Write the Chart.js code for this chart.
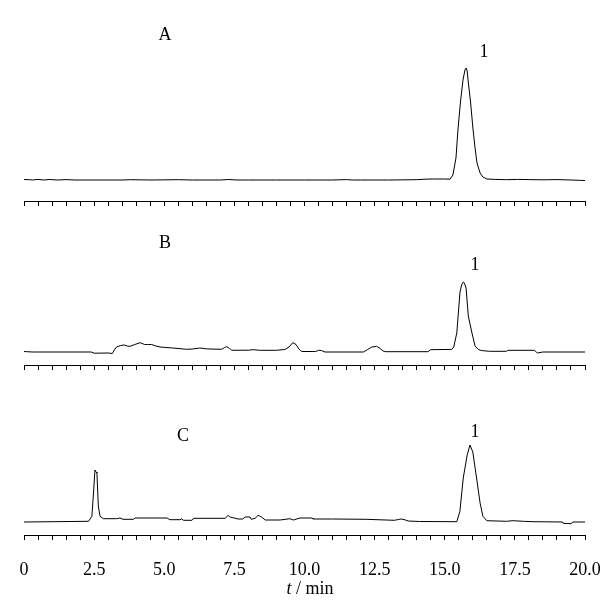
<!DOCTYPE html>
<html><head><meta charset="utf-8">
<script src="https://cdn.jsdelivr.net/npm/chart.js@4"></script>
<style>
html,body{margin:0;padding:0;background:#fff;}
#wrap{position:relative;width:608px;height:616px;background:#fff;}
canvas{position:absolute;left:0;}
</style></head><body>
<div id="wrap">
<canvas id="cA" width="608" height="215" style="top:0px"></canvas>
<canvas id="cB" width="608" height="165" style="top:215px"></canvas>
<canvas id="cC" width="608" height="236" style="top:380px"></canvas>
</div>
<script>
// ---- data (retention time in min, detector response in arbitrary units) ----
const tickValues = [0, 2.5, 5.0, 7.5, 10.0, 12.5, 15.0, 17.5, 20.0];
const panelNames = ['A', 'B', 'C'];
const peakName = '1';
const axisTitleItalic = 't';
const axisTitleRest = ' / min';

const timeA = [0, 0.2, 0.3, 0.5, 0.7, 0.9, 1.2, 1.5, 1.8, 2.2, 3.0, 3.5, 3.8, 4.5, 5.5, 6.0, 7.0, 7.3, 7.6, 8.0, 9.0, 10.0, 11.0, 11.5, 11.7, 12.0, 13.0, 14.0, 14.3, 14.6, 15.0, 15.19, 15.29, 15.4, 15.47, 15.56, 15.65, 15.72, 15.76, 15.8, 15.83, 15.92, 16.0, 16.08, 16.15, 16.26, 16.36, 16.5, 16.8, 17.2, 17.6, 18.0, 18.5, 19.0, 19.5, 19.8, 20.0];
const signalA = [0.5, 0.3, 0, 0.6, 0, 0.5, 0, 0.4, 0, 0, 0, 0, 0.3, 0, 0.3, 0, 0, 0.5, 0, 0, 0, 0, 0, 0.4, 0, 0, 0, 0.3, 0.8, 1, 1, 0.8, 5, 22, 50, 78, 100, 110, 112, 109, 100, 78, 53, 32, 17, 7, 3, 1, 0.6, 0.3, 0.6, 0.4, 0.2, 0.4, 0, -0.3, -0.5];

const timeB = [0, 0.1, 0.3, 2.4, 2.5, 3.0, 3.15, 3.22, 3.3, 3.45, 3.57, 3.7, 3.78, 3.95, 4.14, 4.3, 4.4, 4.55, 4.7, 4.85, 5.3, 5.8, 6.0, 6.27, 6.5, 6.63, 7.05, 7.15, 7.23, 7.33, 7.41, 8.0, 8.17, 8.4, 9.0, 9.3, 9.45, 9.58, 9.7, 9.8, 9.9, 10.4, 10.5, 10.6, 10.73, 12.1, 12.25, 12.4, 12.57, 12.7, 12.8, 12.9, 14.4, 14.5, 15.25, 15.32, 15.43, 15.54, 15.6, 15.66, 15.7, 15.76, 15.84, 15.97, 16.08, 16.2, 16.3, 16.6, 17.2, 17.25, 18.2, 18.3, 18.5, 20.0];
const signalB = [0.5, 0.3, 0, 0, -1.2, -1.0, -1.5, 2, 5, 6.5, 7, 5.8, 5.7, 7.5, 9.3, 7.5, 7.5, 7.5, 6, 5, 4, 2.7, 3, 4, 3.2, 3, 2.7, 4.5, 5.3, 3.5, 1.7, 1.8, 2.3, 1.7, 1.7, 2.5, 5, 9.3, 7.5, 3, 0.5, 0.5, 1.7, 1.5, 0, 0, 2.5, 5, 5.7, 3.5, 1, 0.3, 0.3, 2.3, 2.6, 5, 19, 59, 67, 70, 69, 64, 36, 19, 6, 2.5, 1.5, 0.7, 0.7, 1.7, 1.7, -1, 0, 0];

const timeC = [0, 2.3, 2.42, 2.48, 2.53, 2.57, 2.6, 2.65, 2.71, 2.83, 3.3, 3.42, 3.53, 3.9, 3.96, 5.1, 5.2, 5.56, 5.63, 5.68, 5.99, 6.04, 7.17, 7.28, 7.34, 7.45, 7.63, 7.8, 7.88, 8.06, 8.1, 8.24, 8.35, 8.48, 8.6, 9.13, 9.48, 9.6, 9.84, 10.27, 10.3, 11.0, 12.2, 13.2, 13.35, 13.45, 13.58, 13.7, 14.1, 15.43, 15.54, 15.66, 15.8, 15.9, 16.0, 16.15, 16.26, 16.36, 16.5, 17.2, 17.43, 17.8, 18.15, 19.2, 19.22, 19.5, 19.57, 20.0];
const signalC = [0, 0.7, 5.7, 30, 52, 50, 49, 16, 5.7, 3.3, 3.3, 4, 2.7, 2.7, 4, 4, 2.3, 2.3, 3.3, 1.7, 1.7, 3.7, 3.7, 6.7, 5, 4.3, 3, 3, 5, 5, 2.7, 3.7, 6.7, 4.7, 2, 2, 3.3, 2, 4, 4, 3, 3, 2.7, 1.7, 2.5, 3, 2.2, 1, 0.5, 0.3, 10.7, 44, 67, 77, 70, 41, 19, 5.7, 1.3, 0.7, 1.3, 0.7, 0.3, 0, -1.3, -1.7, 0, 0];

// ---- drawing ----
const FONT = '"Liberation Serif", "Times New Roman", serif';

const textPlugin = {
  id: 'panelText',
  afterDraw(chart, args, opts) {
    const ctx = chart.ctx;
    const xs = chart.scales.x, ys = chart.scales.y;
    ctx.save();
    ctx.fillStyle = '#000';
    ctx.textAlign = 'center';
    ctx.textBaseline = 'middle';
    ctx.font = '18px ' + FONT;
    (opts.items || []).forEach(it => {
      ctx.fillText(it.text, xs.getPixelForValue(it.x), ys.getPixelForValue(it.y));
    });
    if (opts.title) {
      const t = opts.title;
      ctx.textBaseline = 'alphabetic';
      ctx.textAlign = 'left';
      ctx.font = 'italic 18px ' + FONT;
      const w1 = ctx.measureText(axisTitleItalic).width;
      ctx.font = '18px ' + FONT;
      const w2 = ctx.measureText(axisTitleRest).width;
      const cx = xs.getPixelForValue(t.x);
      const x0 = cx - (w1 + w2) / 2;
      const y = chart.height - t.fromBottom;
      ctx.font = 'italic 18px ' + FONT;
      ctx.fillText(axisTitleItalic, x0, y);
      ctx.font = '18px ' + FONT;
      ctx.fillText(axisTitleRest, x0 + w1, y);
    }
    ctx.restore();
  }
};

function makePanel(id, times, signal, yMin, yMax, showLabels, padBottom, textOpts) {
  const pts = times.map((t, i) => ({x: t, y: signal[i]}));
  return new Chart(document.getElementById(id), {
    type: 'line',
    data: { datasets: [{ data: pts, borderColor: '#000', borderWidth: 1, pointRadius: 0, tension: 0, fill: false }] },
    options: {
      responsive: false, animation: false, devicePixelRatio: 1,
      layout: { padding: { left: 24, right: 23, top: 0, bottom: padBottom } },
      plugins: { legend: { display: false }, tooltip: { enabled: false }, panelText: textOpts },
      scales: {
        x: {
          type: 'linear', min: 0, max: 20,
          border: { display: true, color: '#000', width: 1 },
          grid: { drawOnChartArea: false, drawTicks: true, tickLength: 5, color: '#000', lineWidth: 1 },
          ticks: {
            display: showLabels, stepSize: 0.5, autoSkip: false, maxRotation: 0, padding: 3,
            color: '#000', font: { family: FONT, size: 18, lineHeight: 3 },
            callback: (v) => tickValues.includes(v) ? (v === 0 ? '0' : v.toFixed(1)) : ''
          }
        },
        y: { display: false, min: yMin, max: yMax }
      }
    },
    plugins: [textPlugin]
  });
}

makePanel('cA', timeA, signalA, -21, 180, false, 9,
  { items: [{ text: panelNames[0], x: 5.03, y: 145 }, { text: peakName, x: 16.4, y: 128 }] });
makePanel('cB', timeB, signalB, -13, 137, false, 10,
  { items: [{ text: panelNames[1], x: 5.03, y: 109 }, { text: peakName, x: 16.08, y: 87 }] });
makePanel('cC', timeC, signalC, -13, 142, true, 16,
  { items: [{ text: panelNames[2], x: 5.67, y: 86 }, { text: peakName, x: 16.08, y: 90 }],
    title: { x: 10.2, fromBottom: 22 } });
</script>
</body></html>
